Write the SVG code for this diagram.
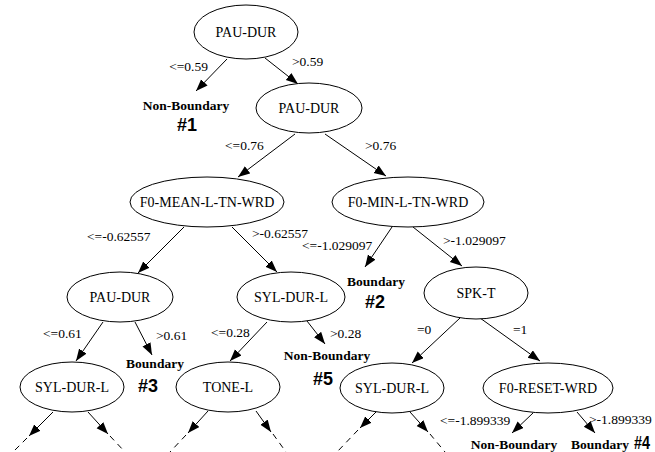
<svg xmlns="http://www.w3.org/2000/svg" width="655" height="452" viewBox="0 0 655 452">
<style>
.n ellipse{fill:#fff;stroke:#000;stroke-width:1}
.n text{font-size:14px;text-anchor:middle;fill:#000}
.lbl{font-size:13.5px;fill:#000}
.leaf{font-size:13.5px;font-weight:bold;text-anchor:middle;fill:#000}
.num{font-size:19px;font-weight:bold;fill:#000}
.e line{stroke:#000;stroke-width:1}
.e line.a{marker-end:url(#ah)}
.e line.d{stroke-dasharray:6,5}
</style>
<defs>
<marker id="ah" markerUnits="userSpaceOnUse" markerWidth="13" markerHeight="10" refX="12" refY="4.5" orient="auto">
<path d="M0,0 L12,4.5 L0,9 z" fill="#000"/>
</marker>
</defs>
<g id="connectors" class="e">
<line class="a" x1="227" y1="59" x2="196" y2="91"/>
<line class="a" x1="265" y1="58" x2="298" y2="84"/>
<line class="a" x1="295" y1="134" x2="238" y2="177"/>
<line class="a" x1="325" y1="134" x2="386" y2="176"/>
<line class="a" x1="184" y1="227" x2="138" y2="273"/>
<line class="a" x1="232" y1="227" x2="277" y2="272"/>
<line class="a" x1="392" y1="227" x2="365" y2="267"/>
<line class="a" x1="413" y1="227" x2="462" y2="266"/>
<line class="a" x1="103" y1="322" x2="76" y2="361"/>
<line class="a" x1="135" y1="322" x2="152" y2="355"/>
<line class="a" x1="267" y1="322" x2="230" y2="361"/>
<line class="a" x1="307" y1="321" x2="325" y2="344"/>
<line class="a" x1="460" y1="318" x2="412" y2="363"/>
<line class="a" x1="480" y1="318" x2="540" y2="361"/>
<line class="a" x1="53" y1="412" x2="29" y2="436"/>
<line class="d" x1="27" y1="438" x2="13" y2="452"/>
<line class="a" x1="88" y1="412" x2="108" y2="434"/>
<line class="d" x1="110" y1="436" x2="125" y2="452"/>
<line class="a" x1="208" y1="411" x2="188" y2="433"/>
<line class="d" x1="186" y1="435" x2="170" y2="452"/>
<line class="a" x1="256" y1="411" x2="271" y2="432"/>
<line class="d" x1="273" y1="434" x2="286" y2="452"/>
<line class="a" x1="376" y1="412" x2="360" y2="428"/>
<line class="d" x1="358" y1="430" x2="337" y2="452"/>
<line class="a" x1="410" y1="412" x2="428" y2="432"/>
<line class="d" x1="430" y1="434" x2="445" y2="452"/>
<line class="a" x1="533" y1="413" x2="512" y2="433"/>
<line class="a" x1="577" y1="412" x2="595" y2="433"/>
</g>
<g id="edge-labels" class="lbl" font-family="Liberation Serif, Times New Roman, DejaVu Serif, serif">
<text x="208" y="71" text-anchor="end">&lt;=0.59</text>
<text x="292" y="66">&gt;0.59</text>
<text x="225" y="150">&lt;=0.76</text>
<text x="365" y="150">&gt;0.76</text>
<text x="87" y="241">&lt;=-0.62557</text>
<text x="252" y="238">&gt;-0.62557</text>
<text x="302" y="250">&lt;=-1.029097</text>
<text x="443" y="245">&gt;-1.029097</text>
<text x="43" y="338">&lt;=0.61</text>
<text x="156" y="340">&gt;0.61</text>
<text x="211" y="337">&lt;=0.28</text>
<text x="330" y="338">&gt;0.28</text>
<text x="417" y="334">=0</text>
<text x="513" y="334">=1</text>
<text x="440" y="425">&lt;=-1.899339</text>
<text x="589" y="424">&gt;-1.899339</text>
</g>
<g id="nodes" font-family="Liberation Serif, Times New Roman, DejaVu Serif, serif">
<g id="n1" class="n"><ellipse cx="246" cy="32" rx="52" ry="27"/><text x="246" y="37">PAU-DUR</text></g>
<g id="n2" class="n"><ellipse cx="309" cy="108" rx="53" ry="25"/><text x="309" y="113">PAU-DUR</text></g>
<g id="n3" class="n"><ellipse cx="207" cy="202" rx="77" ry="25"/><text x="207" y="207">F0-MEAN-L-TN-WRD</text></g>
<g id="n4" class="n"><ellipse cx="408" cy="202" rx="76" ry="25"/><text x="408" y="207">F0-MIN-L-TN-WRD</text></g>
<g id="n5" class="n"><ellipse cx="120" cy="297" rx="53" ry="25"/><text x="120" y="302">PAU-DUR</text></g>
<g id="n6" class="n"><ellipse cx="291" cy="297" rx="54" ry="25"/><text x="291" y="302">SYL-DUR-L</text></g>
<g id="n7" class="n"><ellipse cx="476" cy="293" rx="52" ry="26"/><text x="476" y="298">SPK-T</text></g>
<g id="n8" class="n"><ellipse cx="72" cy="387" rx="52" ry="25"/><text x="72" y="392">SYL-DUR-L</text></g>
<g id="n9" class="n"><ellipse cx="228" cy="387" rx="52" ry="25"/><text x="228" y="392">TONE-L</text></g>
<g id="n10" class="n"><ellipse cx="392" cy="388" rx="52" ry="25"/><text x="392" y="393">SYL-DUR-L</text></g>
<g id="n11" class="n"><ellipse cx="548" cy="388" rx="65" ry="25"/><text x="548" y="393">F0-RESET-WRD</text></g>
</g>
<g id="leaves">
<g id="leaf1"><text class="leaf" font-family="Liberation Serif, Times New Roman, DejaVu Serif, serif" x="186" y="110">Non-Boundary</text><text class="num" font-family="Liberation Sans Narrow, Liberation Sans, Arial, sans-serif" x="177" y="131" textLength="20" lengthAdjust="spacingAndGlyphs">#1</text></g>
<g id="leaf2"><text class="leaf" font-family="Liberation Serif, Times New Roman, DejaVu Serif, serif" x="376" y="286">Boundary</text><text class="num" font-family="Liberation Sans Narrow, Liberation Sans, Arial, sans-serif" x="365" y="308" textLength="20" lengthAdjust="spacingAndGlyphs">#2</text></g>
<g id="leaf3"><text class="leaf" font-family="Liberation Serif, Times New Roman, DejaVu Serif, serif" x="155" y="368">Boundary</text><text class="num" font-family="Liberation Sans Narrow, Liberation Sans, Arial, sans-serif" x="138" y="392" textLength="20" lengthAdjust="spacingAndGlyphs">#3</text></g>
<g id="leaf5"><text class="leaf" font-family="Liberation Serif, Times New Roman, DejaVu Serif, serif" x="327" y="360">Non-Boundary</text><text class="num" font-family="Liberation Sans Narrow, Liberation Sans, Arial, sans-serif" x="313" y="385" textLength="20" lengthAdjust="spacingAndGlyphs">#5</text></g>
<g id="leaf6"><text class="leaf" font-family="Liberation Serif, Times New Roman, DejaVu Serif, serif" x="514" y="449">Non-Boundary</text></g>
<g id="leaf4"><text class="leaf" font-family="Liberation Serif, Times New Roman, DejaVu Serif, serif" x="600" y="449">Boundary</text><text class="num" font-family="Liberation Sans Narrow, Liberation Sans, Arial, sans-serif" x="634" y="449" textLength="16" lengthAdjust="spacingAndGlyphs">#4</text></g>
</g>
</svg>
